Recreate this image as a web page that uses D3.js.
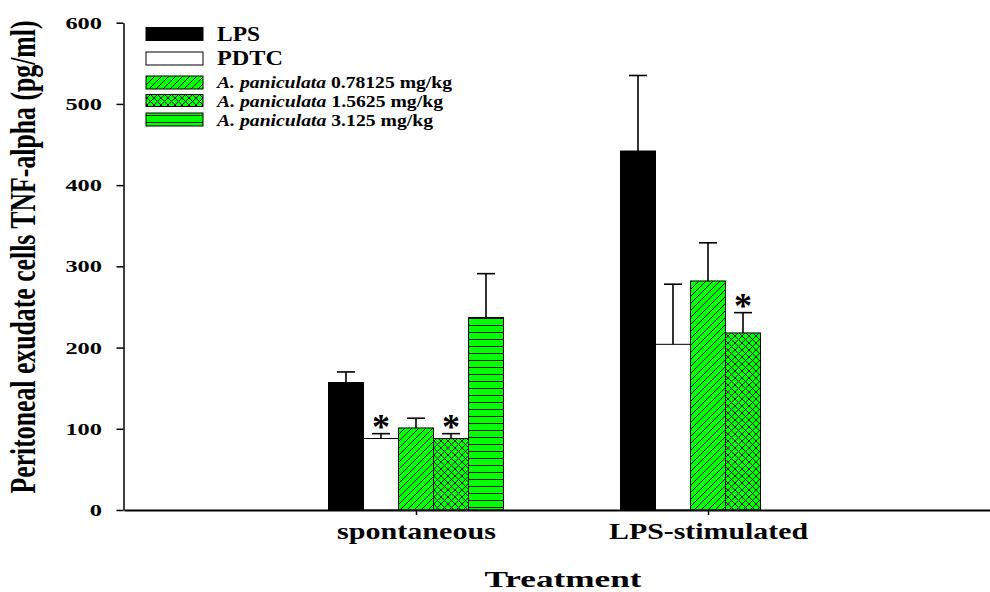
<!DOCTYPE html>
<html>
<head>
<meta charset="utf-8">
<script src="https://cdn.jsdelivr.net/npm/d3@7"></script>
<style>
  html, body { margin: 0; padding: 0; background: #fff; }
  svg { display: block; }
  text { font-family: "Liberation Serif", "Times New Roman", serif; font-weight: bold; fill: #000; }
</style>
</head>
<body>
<svg id="chart" width="990" height="592"></svg>
<script>
// Treatment groups on the x axis
const categories = ["spontaneous", "LPS-stimulated"];

// Series (legend order)
const seriesKeys = ["LPS", "PDTC", "ap078", "ap156", "ap3125"];
const seriesDose = ["", "", "0.78125 mg/kg", "1.5625 mg/kg", "3.125 mg/kg"];

// TNF-alpha (pg/ml), mean and upper error per group
const lpsMean    = [157, 442];
const lpsErr     = [13, 93];
const pdtcMean   = [88, 204];
const pdtcErr    = [6, 74];
const ap078Mean  = [101, 282];
const ap078Err   = [12, 47];
const ap156Mean  = [88, 218];
const ap156Err   = [6, 25];
const ap3125Mean = [237, null];
const ap3125Err  = [54, null];

// Significance markers (*)
const pdtcSig  = [true, false];
const ap156Sig = [true, true];

// Axis ticks
const yTicks = [0, 100, 200, 300, 400, 500, 600];
const yTickLabels = ["0", "100", "200", "300", "400", "500", "600"];

const seriesMeans = [lpsMean, pdtcMean, ap078Mean, ap156Mean, ap3125Mean];
const seriesErrs  = [lpsErr, pdtcErr, ap078Err, ap156Err, ap3125Err];
const seriesSig   = [[false, false], pdtcSig, [false, false], ap156Sig, [false, false]];

const GREEN = "#00ff00";
const svg = d3.select("#chart");

// hatch patterns
const defs = svg.append("defs");
function pattern(id, size, d) {
  const p = defs.append("pattern").attr("id", id)
    .attr("patternUnits", "userSpaceOnUse").attr("width", size).attr("height", size);
  p.append("rect").attr("width", size).attr("height", size).attr("fill", GREEN);
  p.append("path").attr("d", d).attr("stroke", "#000").attr("stroke-width", 0.9).attr("fill", "none");
}
pattern("hatchDiag", 7, "M0,7 L7,0 M-1,1 L1,-1 M6,8 L8,6");
pattern("hatchCross", 7, "M0,7 L7,0 M-1,1 L1,-1 M6,8 L8,6 M0,0 L7,7 M-1,6 L1,8 M6,-1 L8,1");
pattern("hatchHoriz", 7, "M0,3.5 L7,3.5");

const fills = ["#000", "#fff", "url(#hatchDiag)", "url(#hatchCross)", "url(#hatchHoriz)"];

// scales
const x = d3.scaleLinear().domain([0, 3]).range([124, 1000]);
const y = d3.scaleLinear().domain([0, 600]).range([510, 22.7]);
const inner = d3.scaleBand().domain(d3.range(seriesKeys.length)).range([-87.5, 87.5]).paddingInner(0);

// bars
const barData = [];
categories.forEach((c, ci) => {
  seriesKeys.forEach((k, si) => {
    const v = seriesMeans[si][ci];
    if (v == null) return;
    barData.push({ ci, si, v, e: seriesErrs[si][ci], sig: seriesSig[si][ci] });
  });
});

const gBars = svg.append("g");
gBars.selectAll("rect").data(barData).enter().append("rect")
  .attr("x", d => x(d.ci + 1) + inner(d.si))
  .attr("y", d => y(d.v))
  .attr("width", inner.bandwidth())
  .attr("height", d => y(0) - y(d.v))
  .attr("fill", d => fills[d.si])
  .attr("stroke", "#000")
  .attr("stroke-width", 1);

// upper error bars
const gErr = svg.append("g").attr("stroke", "#000").attr("stroke-width", 1.6).attr("fill", "none");
barData.forEach(d => {
  const cx = x(d.ci + 1) + inner(d.si) + inner.bandwidth() / 2;
  gErr.append("line").attr("x1", cx).attr("x2", cx).attr("y1", y(d.v)).attr("y2", y(d.v + d.e));
  gErr.append("line").attr("x1", cx - 9).attr("x2", cx + 9).attr("y1", y(d.v + d.e)).attr("y2", y(d.v + d.e));
});

// significance asterisks
svg.append("g").selectAll("text").data(barData.filter(d => d.sig)).enter().append("text")
  .attr("x", d => x(d.ci + 1) + inner(d.si) + inner.bandwidth() / 2)
  .attr("y", d => y(d.v + d.e) + 5)
  .attr("text-anchor", "middle")
  .attr("font-size", 36)
  .text("*");

// y axis
const yAxis = svg.append("g").attr("transform", "translate(123.5,0)")
  .call(d3.axisLeft(y).tickValues(yTicks).tickSize(7).tickSizeOuter(0).tickPadding(14.5)
    .tickFormat((d, i) => yTickLabels[i]));
yAxis.select(".domain").attr("stroke-width", 1.5);
yAxis.selectAll(".tick line").attr("stroke-width", 1.5);
yAxis.selectAll(".tick text")
  .attr("font-family", "Liberation Serif, serif").attr("font-weight", "bold")
  .attr("font-size", 16.5).attr("fill", "#000").attr("dy", "0.34em")
  .attr("textLength", (d, i) => yTickLabels[i].length * 12.2)
  .attr("lengthAdjust", "spacingAndGlyphs");

// x axis
const xAxis = svg.append("g").attr("transform", "translate(0,510)")
  .call(d3.axisBottom(x).tickValues([1, 2]).tickSize(5).tickSizeOuter(0)
    .tickFormat((d, i) => categories[i]));
xAxis.select(".domain").attr("stroke-width", 1.8);
xAxis.selectAll(".tick line").attr("stroke-width", 1.5);
const xLabelWidths = [159, 199];
xAxis.selectAll(".tick text")
  .attr("font-family", "Liberation Serif, serif").attr("font-weight", "bold")
  .attr("font-size", 23).attr("fill", "#000")
  .attr("y", 29).attr("dy", 0)
  .attr("textLength", (d, i) => xLabelWidths[i])
  .attr("lengthAdjust", "spacingAndGlyphs");

// axis titles
svg.append("text")
  .attr("x", 563).attr("y", 587)
  .attr("text-anchor", "middle").attr("font-size", 23)
  .attr("textLength", 157).attr("lengthAdjust", "spacingAndGlyphs")
  .text("Treatment");

svg.append("text")
  .attr("transform", "translate(35,257) scale(1.6,1) rotate(-90)")
  .attr("text-anchor", "middle").attr("font-size", 22)
  .attr("textLength", 473).attr("lengthAdjust", "spacingAndGlyphs")
  .text("Peritoneal exudate cells TNF-alpha (pg/ml)");

// legend
const legBoxTop  = [27.5, 52, 76, 94.5, 113];
const legBoxH    = [13, 13, 13, 12, 13];
const legBase    = [40.5, 64.5, 88, 107, 125.5];
const legWidths  = [43, 66, 235, 226, 216];
const legend = svg.append("g");
seriesKeys.forEach((k, i) => {
  legend.append("rect")
    .attr("x", 146).attr("y", legBoxTop[i]).attr("width", 57).attr("height", legBoxH[i])
    .attr("fill", fills[i]).attr("stroke", "#000").attr("stroke-width", 1);
  const t = legend.append("text").attr("x", 217).attr("y", legBase[i])
    .attr("textLength", legWidths[i]).attr("lengthAdjust", "spacingAndGlyphs");
  if (i < 2) {
    t.attr("font-size", 20).text(k);
  } else {
    t.attr("font-size", 17);
    t.append("tspan").attr("font-style", "italic").text("A. paniculata");
    t.append("tspan").text(" " + seriesDose[i]);
  }
});
</script>
</body>
</html>
